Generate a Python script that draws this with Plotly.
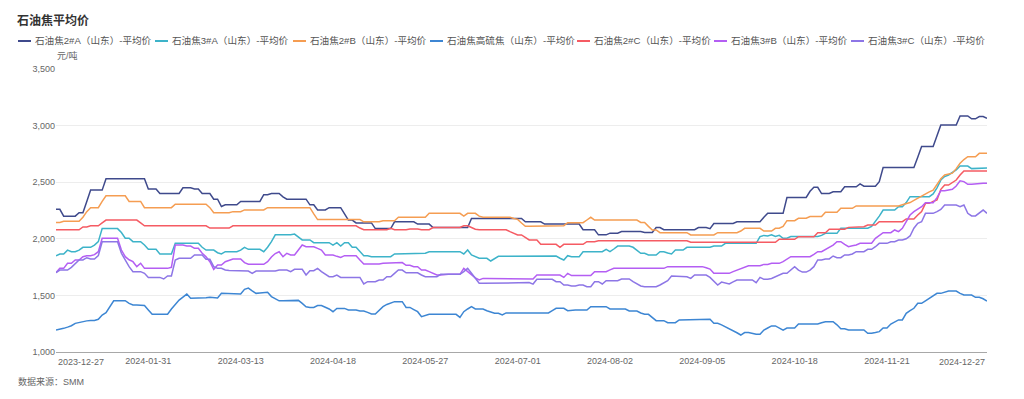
import plotly.graph_objects as go
import pandas as pd

TITLE = "石油焦平均价"
SOURCE = "数据来源：SMM"
UNIT = "元/吨"

# trading calendar (weekdays without Chinese market holidays)
HOLIDAYS = ["2024-01-01", "2024-02-09", "2024-02-12", "2024-02-13", "2024-02-14",
            "2024-02-15", "2024-02-16", "2024-04-04", "2024-04-05", "2024-05-01",
            "2024-05-02", "2024-05-03", "2024-06-10", "2024-09-16", "2024-09-17",
            "2024-10-01", "2024-10-02", "2024-10-03", "2024-10-04", "2024-10-07"]
DATES = [d.strftime("%Y-%m-%d") for d in pd.bdate_range("2023-12-27", "2024-12-27")
         if d.strftime("%Y-%m-%d") not in HOLIDAYS]
assert len(DATES) == 243, len(DATES)

TICK_LABELS = ["2023-12-27", "2024-01-31", "2024-03-13", "2024-04-18", "2024-05-27",
               "2024-07-01", "2024-08-02", "2024-09-05", "2024-10-18", "2024-11-21",
               "2024-12-27"]

SERIES_NAMES = ["石油焦2#A（山东）-平均价", "石油焦3#A（山东）-平均价", "石油焦2#B（山东）-平均价",
                "石油焦高硫焦（山东）-平均价", "石油焦2#C（山东）-平均价", "石油焦3#B（山东）-平均价",
                "石油焦3#C（山东）-平均价"]

S_2A = [
    2260, 2260, 2200, 2200, 2200, 2200, 2230, 2230, 2330, 2430,
    2430, 2430, 2430, 2530, 2530, 2530, 2530, 2530, 2530, 2530,
    2530, 2530, 2530, 2530, 2440, 2440, 2440, 2400, 2400, 2400,
    2400, 2400, 2400, 2450, 2450, 2450, 2440, 2440, 2400, 2400,
    2400, 2350, 2350, 2285, 2300, 2300, 2300, 2300, 2330, 2330,
    2330, 2330, 2330, 2330, 2390, 2390, 2400, 2400, 2400, 2370,
    2350, 2350, 2350, 2350, 2350, 2350, 2300, 2300, 2255, 2255,
    2255, 2275, 2275, 2275, 2275, 2220, 2165, 2165, 2140, 2140,
    2140, 2140, 2140, 2090, 2090, 2090, 2090, 2090, 2150, 2150,
    2150, 2150, 2150, 2150, 2130, 2130, 2130, 2130, 2100, 2100,
    2100, 2100, 2100, 2100, 2100, 2100, 2100, 2100, 2180, 2180,
    2180, 2180, 2180, 2180, 2180, 2180, 2180, 2180, 2180, 2180,
    2180, 2180, 2150, 2150, 2150, 2150, 2150, 2130, 2130, 2130,
    2130, 2130, 2130, 2130, 2130, 2130, 2130, 2080, 2080, 2080,
    2080, 2035, 2035, 2035, 2050, 2050, 2050, 2065, 2065, 2065,
    2065, 2065, 2065, 2055, 2055, 2055, 2100, 2100, 2080, 2080,
    2080, 2080, 2080, 2080, 2080, 2080, 2080, 2100, 2100, 2100,
    2090, 2135, 2135, 2135, 2135, 2135, 2135, 2150, 2150, 2150,
    2150, 2150, 2150, 2150, 2190, 2225, 2225, 2225, 2225, 2225,
    2365, 2365, 2365, 2365, 2365, 2365, 2420, 2455, 2455, 2400,
    2400, 2400, 2415, 2415, 2415, 2460, 2460, 2460, 2460, 2485,
    2465, 2465, 2465, 2465, 2505, 2630, 2630, 2630, 2630, 2630,
    2630, 2630, 2630, 2630, 2720, 2815, 2815, 2815, 2815, 2910,
    3005, 3005, 3005, 3005, 3005, 3085, 3085, 3085, 3060, 3060,
    3080, 3080, 3065]

S_3A = [
    1850, 1866, 1866, 1900, 1886, 1886, 1900, 1925, 1925, 1925,
    1945, 1975, 2090, 2090, 2090, 2090, 2090, 2055, 2005, 2005,
    1975, 1975, 1975, 1945, 1907, 1907, 1907, 1866, 1866, 1866,
    1866, 1960, 1960, 1960, 1960, 1960, 1960, 1960, 1925, 1900,
    1900, 1900, 1877, 1866, 1886, 1886, 1886, 1886, 1900, 1925,
    1907, 1907, 1907, 1907, 1886, 1925, 1975, 2035, 2035, 2035,
    2035, 2035, 2042, 2015, 1990, 1990, 1990, 1966, 1966, 1966,
    1966, 1966, 1945, 1966, 1936, 1966, 1966, 1925, 1925, 1890,
    1851, 1851, 1842, 1842, 1842, 1842, 1842, 1842, 1866, 1866,
    1866, 1872, 1872, 1872, 1872, 1872, 1872, 1886, 1886, 1886,
    1886, 1886, 1886, 1886, 1886, 1886, 1866, 1901, 1857, 1840,
    1828, 1828, 1828, 1804, 1825, 1845, 1845, 1845, 1845, 1845,
    1848, 1848, 1848, 1848, 1848, 1848, 1848, 1848, 1848, 1848,
    1848, 1828, 1813, 1851, 1842, 1842, 1842, 1886, 1886, 1886,
    1886, 1886, 1886, 1907, 1886, 1910, 1936, 1936, 1936, 1936,
    1925, 1900, 1872, 1872, 1857, 1857, 1857, 1886, 1886, 1875,
    1866, 1901, 1901, 1901, 1925, 1925, 1925, 1925, 1925, 1925,
    1925, 1936, 1936, 1936, 1960, 1960, 1960, 1960, 1960, 1960,
    1960, 1960, 1960, 2020, 2030, 2025, 2035, 2020, 2030, 2005,
    2005, 2020, 2020, 2020, 2020, 2020, 2020, 2020, 2020, 2030,
    2048, 2048, 2048, 2048, 2093, 2093, 2093, 2093, 2093, 2093,
    2093, 2093, 2110, 2150, 2200, 2254, 2254, 2254, 2254, 2284,
    2284, 2320, 2372, 2372, 2372, 2372, 2372, 2372, 2396, 2450,
    2519, 2550, 2564, 2590, 2608, 2643, 2643, 2643, 2620, 2620,
    2620, 2626, 2626]

S_2B = [
    2145, 2145, 2155, 2155, 2155, 2155, 2155, 2190, 2240, 2275,
    2275, 2275, 2330, 2380, 2380, 2380, 2380, 2380, 2380, 2330,
    2330, 2330, 2330, 2275, 2275, 2275, 2275, 2275, 2275, 2275,
    2275, 2305, 2305, 2305, 2305, 2305, 2305, 2305, 2305, 2305,
    2275, 2230, 2230, 2230, 2230, 2230, 2240, 2240, 2240, 2255,
    2255, 2255, 2255, 2255, 2255, 2275, 2275, 2275, 2275, 2275,
    2275, 2275, 2275, 2275, 2275, 2275, 2275, 2220, 2170, 2170,
    2170, 2170, 2170, 2170, 2170, 2170, 2170, 2170, 2170, 2170,
    2150, 2150, 2150, 2150, 2150, 2160, 2160, 2160, 2160, 2190,
    2190, 2190, 2190, 2190, 2190, 2190, 2190, 2225, 2225, 2225,
    2225, 2225, 2225, 2225, 2225, 2225, 2200, 2225, 2225, 2225,
    2200, 2190, 2190, 2190, 2190, 2190, 2190, 2190, 2190, 2180,
    2172, 2140, 2110, 2110, 2110, 2110, 2110, 2110, 2116, 2116,
    2116, 2116, 2116, 2142, 2142, 2142, 2142, 2142, 2166, 2190,
    2166, 2166, 2166, 2166, 2166, 2166, 2166, 2166, 2166, 2166,
    2166, 2166, 2145, 2145, 2110, 2078, 2078, 2054, 2054, 2054,
    2054, 2054, 2054, 2054, 2054, 2034, 2034, 2034, 2034, 2034,
    2034, 2034, 2054, 2054, 2054, 2054, 2054, 2054, 2069, 2093,
    2093, 2093, 2093, 2093, 2069, 2069, 2069, 2093, 2093, 2110,
    2160, 2160, 2160, 2181, 2181, 2181, 2196, 2196, 2196, 2196,
    2234, 2234, 2234, 2234, 2269, 2269, 2269, 2269, 2290, 2290,
    2290, 2290, 2290, 2290, 2290, 2290, 2290, 2290, 2290, 2290,
    2300, 2313, 2320, 2340, 2360, 2380, 2400, 2415, 2430, 2480,
    2530, 2564, 2572, 2580, 2620, 2667, 2700, 2725, 2725, 2725,
    2755, 2755, 2755]

S_HS = [
    1194, 1200, 1209, 1220, 1232, 1253, 1262, 1271, 1275, 1278,
    1278, 1289, 1327, 1347, 1400, 1453, 1453, 1453, 1453, 1430,
    1415, 1415, 1415, 1410, 1371, 1333, 1333, 1333, 1333, 1333,
    1380, 1424, 1459, 1485, 1512, 1474, 1474, 1474, 1474, 1480,
    1484, 1484, 1478, 1518, 1518, 1515, 1512, 1512, 1512, 1554,
    1565, 1540, 1518, 1522, 1527, 1527, 1490, 1470, 1452, 1452,
    1452, 1452, 1456, 1456, 1430, 1400, 1394, 1394, 1410, 1410,
    1395, 1380, 1356, 1385, 1385, 1385, 1371, 1371, 1371, 1362,
    1362, 1350, 1336, 1336, 1370, 1400, 1420, 1436, 1445, 1445,
    1445, 1394, 1394, 1375, 1356, 1312, 1325, 1333, 1333, 1333,
    1333, 1333, 1333, 1333, 1333, 1306, 1356, 1380, 1400, 1380,
    1380, 1380, 1365, 1350, 1342, 1342, 1327, 1345, 1345, 1345,
    1345, 1345, 1345, 1345, 1345, 1345, 1345, 1345, 1345, 1365,
    1386, 1386, 1386, 1365, 1371, 1371, 1371, 1371, 1371, 1400,
    1400, 1400, 1400, 1400, 1380, 1380, 1380, 1380, 1380, 1362,
    1362, 1362, 1345, 1333, 1333, 1305, 1277, 1277, 1277, 1259,
    1259, 1259, 1283, 1283, 1283, 1283, 1283, 1283, 1289, 1289,
    1289, 1253, 1253, 1240, 1224, 1205, 1189, 1170, 1150, 1172,
    1172, 1165, 1156, 1156, 1194, 1212, 1230, 1230, 1212, 1194,
    1212, 1212, 1212, 1247, 1247, 1247, 1247, 1247, 1247, 1258,
    1268, 1268, 1268, 1240, 1206, 1206, 1194, 1194, 1194, 1194,
    1194, 1165, 1165, 1172, 1180, 1212, 1212, 1247, 1265, 1283,
    1283, 1342, 1365, 1386, 1430, 1430, 1452, 1474, 1496, 1518,
    1518, 1530, 1539, 1539, 1539, 1518, 1503, 1503, 1503, 1483,
    1483, 1470, 1450]

S_2C = [
    2080, 2080, 2080, 2080, 2080, 2080, 2080, 2105, 2105, 2115,
    2115, 2115, 2140, 2165, 2165, 2165, 2165, 2165, 2165, 2165,
    2165, 2165, 2140, 2115, 2115, 2115, 2115, 2115, 2115, 2115,
    2115, 2115, 2115, 2115, 2115, 2115, 2115, 2115, 2115, 2115,
    2095, 2095, 2095, 2095, 2095, 2095, 2115, 2115, 2115, 2115,
    2115, 2115, 2115, 2115, 2115, 2115, 2115, 2115, 2115, 2115,
    2115, 2115, 2115, 2115, 2115, 2115, 2115, 2115, 2115, 2115,
    2115, 2115, 2115, 2115, 2115, 2115, 2115, 2115, 2115, 2095,
    2080, 2080, 2080, 2080, 2080, 2080, 2080, 2093, 2080, 2080,
    2080, 2080, 2087, 2087, 2087, 2080, 2080, 2080, 2100, 2100,
    2100, 2100, 2100, 2100, 2100, 2100, 2115, 2115, 2100, 2085,
    2080, 2080, 2080, 2080, 2080, 2080, 2080, 2080, 2063, 2050,
    2034, 2034, 2010, 1990, 1990, 1990, 1951, 1951, 1951, 1951,
    1951, 1925, 1951, 1951, 1951, 1951, 1951, 1951, 1974, 1974,
    1974, 1983, 1983, 1983, 1983, 1983, 1983, 1983, 1983, 1983,
    1983, 1983, 1983, 1983, 1983, 1983, 1983, 1983, 1983, 1983,
    1983, 1983, 1983, 1983, 1983, 1969, 1969, 1969, 1969, 1969,
    1969, 1969, 1969, 1969, 1969, 1969, 1969, 1969, 1969, 1969,
    1969, 1969, 1969, 1969, 1969, 1969, 1969, 1969, 1996, 1996,
    1996, 1996, 1996, 2019, 2019, 2019, 2019, 2019, 2054, 2054,
    2054, 2084, 2084, 2084, 2084, 2084, 2101, 2101, 2107, 2107,
    2107, 2122, 2122, 2122, 2151, 2151, 2151, 2151, 2151, 2151,
    2151, 2175, 2175, 2175, 2210, 2240, 2313, 2313, 2330, 2343,
    2437, 2475, 2475, 2500, 2519, 2564, 2600, 2600, 2600, 2600,
    2600, 2600, 2600]

S_3B = [
    1700, 1739, 1739, 1784, 1784, 1813, 1813, 1842, 1851, 1851,
    1860, 1886, 2004, 2004, 2004, 2004, 2004, 1901, 1842, 1815,
    1798, 1754, 1784, 1739, 1739, 1739, 1739, 1739, 1739, 1739,
    1748, 1945, 1945, 1945, 1936, 1936, 1916, 1916, 1872, 1842,
    1798, 1730, 1769, 1769, 1798, 1810, 1822, 1822, 1822, 1790,
    1775, 1775, 1775, 1775, 1775, 1798, 1840, 1870, 1886, 1842,
    1872, 1857, 1857, 1901, 1945, 1930, 1930, 1930, 1915, 1901,
    1857, 1857, 1857, 1845, 1836, 1851, 1851, 1851, 1851, 1813,
    1777, 1777, 1777, 1777, 1777, 1784, 1784, 1784, 1784, 1790,
    1790, 1766, 1766, 1754, 1754, 1724, 1724, 1710, 1695, 1680,
    1680, 1686, 1686, 1686, 1686, 1686, 1739, 1710, 1680, 1655,
    1636, 1650, 1650, 1650, 1648, 1645, 1645, 1645, 1645, 1645,
    1645, 1645, 1645, 1645, 1645, 1680, 1680, 1680, 1680, 1680,
    1680, 1680, 1659, 1695, 1675, 1675, 1675, 1675, 1675, 1675,
    1710, 1710, 1710, 1710, 1725, 1739, 1739, 1739, 1739, 1739,
    1739, 1739, 1739, 1733, 1733, 1739, 1739, 1739, 1739, 1754,
    1754, 1754, 1754, 1754, 1754, 1754, 1754, 1754, 1754, 1745,
    1733, 1695, 1695, 1695, 1695, 1695, 1710, 1724, 1735, 1745,
    1762, 1762, 1762, 1762, 1774, 1774, 1783, 1783, 1783, 1798,
    1820, 1842, 1842, 1842, 1842, 1842, 1842, 1863, 1886, 1886,
    1907, 1925, 1945, 1974, 1974, 1951, 1930, 1938, 1945, 1960,
    1960, 1960, 1960, 2004, 2030, 2054, 2054, 2054, 2078, 2063,
    2093, 2151, 2210, 2240, 2265, 2284, 2319, 2319, 2319, 2363,
    2425, 2425, 2430, 2437, 2466, 2513, 2505, 2481, 2481, 2485,
    2490, 2490, 2490]

S_3C = [
    1700, 1724, 1724, 1724, 1748, 1777, 1813, 1813, 1833, 1822,
    1822, 1851, 1974, 1974, 1974, 1974, 1974, 1872, 1813, 1754,
    1710, 1710, 1710, 1695, 1659, 1659, 1659, 1659, 1645, 1672,
    1672, 1813, 1828, 1828, 1828, 1828, 1857, 1857, 1857, 1819,
    1819, 1754, 1739, 1739, 1724, 1720, 1720, 1715, 1715, 1715,
    1715, 1695, 1715, 1715, 1715, 1715, 1715, 1715, 1724, 1724,
    1724, 1710, 1730, 1730, 1730, 1680, 1718, 1718, 1739, 1710,
    1690, 1665, 1665, 1680, 1659, 1659, 1659, 1659, 1659, 1659,
    1601, 1621, 1621, 1621, 1636, 1636, 1665, 1665, 1695, 1724,
    1724, 1700, 1700, 1700, 1700, 1680, 1665, 1665, 1665, 1665,
    1686, 1686, 1686, 1686, 1686, 1686, 1710, 1739, 1695, 1650,
    1607, 1607, 1607, 1607, 1607, 1607, 1607, 1607, 1607, 1607,
    1613, 1613, 1613, 1613, 1600, 1642, 1642, 1642, 1642, 1642,
    1621, 1621, 1592, 1592, 1583, 1583, 1592, 1592, 1577, 1577,
    1621, 1621, 1601, 1630, 1630, 1630, 1630, 1645, 1645, 1645,
    1621, 1600, 1583, 1577, 1577, 1577, 1577, 1592, 1610, 1630,
    1671, 1671, 1671, 1665, 1665, 1650, 1680, 1680, 1680, 1680,
    1659, 1621, 1592, 1618, 1610, 1601, 1620, 1636, 1636, 1636,
    1636, 1636, 1612, 1659, 1642, 1642, 1650, 1665, 1680, 1695,
    1695, 1724, 1754, 1724, 1706, 1706, 1724, 1754, 1813, 1813,
    1822, 1822, 1848, 1833, 1833, 1857, 1857, 1866, 1886, 1886,
    1886, 1907, 1907, 1930, 1960, 1960, 1960, 1974, 1974, 1989,
    1989, 2000, 2025, 2093, 2137, 2151, 2225, 2225, 2225, 2240,
    2260, 2299, 2299, 2299, 2299, 2284, 2299, 2225, 2202, 2202,
    2225, 2254, 2225]

SERIES_VALUES = [S_2A, S_3A, S_2B, S_HS, S_2C, S_3B, S_3C]
COLORS = ["#3f4a8c", "#3db3c9", "#f59d52", "#3d86d3", "#f55b63", "#b45ef3", "#8d76e6"]

# ---- layout geometry (pixels) ----
W, H = 1024, 399
L, R, T, B = 56, 37, 69, 47
PW, PH = W - L - R, H - T - B
FONT = "Liberation Sans, Noto Sans CJK SC, sans-serif"
LEGEND_LINE_X = [18, 155, 293, 430, 577, 714, 851]


def px_x(px):
    return (px - L) / PW


def px_y(py):
    return (H - B - py) / PH


fig = go.Figure()
for name, vals, col in zip(SERIES_NAMES, SERIES_VALUES, COLORS):
    fig.add_trace(go.Scatter(x=DATES, y=vals, name=name, mode="lines",
                             line=dict(color=col, width=1.5), showlegend=False))

annotations = [
    dict(text=UNIT, xref="paper", yref="paper", x=px_x(55), y=px_y(56), xanchor="left",
         yanchor="middle", showarrow=False, font=dict(size=9, color="#666")),
    dict(text=SOURCE, xref="paper", yref="paper", x=px_x(16), y=px_y(381), xanchor="left",
         yanchor="middle", showarrow=False, font=dict(size=9, color="#666")),
    dict(text=TICK_LABELS[0], xref="x", yref="paper", x=DATES.index(TICK_LABELS[0]), y=0,
         xanchor="left", yanchor="top", yshift=-3, showarrow=False,
         font=dict(size=9, color="#666")),
    dict(text=TICK_LABELS[-1], xref="x", yref="paper", x=DATES.index(TICK_LABELS[-1]), y=0,
         xanchor="right", yanchor="top", yshift=-3, showarrow=False,
         font=dict(size=9, color="#666")),
]
shapes = []
for name, col, lx in zip(SERIES_NAMES, COLORS, LEGEND_LINE_X):
    shapes.append(dict(type="line", xref="paper", yref="paper", x0=px_x(lx), x1=px_x(lx + 13),
                       y0=px_y(41), y1=px_y(41), line=dict(color=col, width=2)))
    annotations.append(dict(text=name, xref="paper", yref="paper", x=px_x(lx + 15), y=px_y(41),
                            xanchor="left", yanchor="middle", showarrow=False,
                            font=dict(size=9.6, color="#555")))

fig.update_layout(
    width=W, height=H,
    margin=dict(l=L, r=R, t=T, b=B),
    paper_bgcolor="white", plot_bgcolor="white",
    font=dict(family=FONT, color="#666"),
    showlegend=False,
    title=dict(text="<b>" + TITLE + "</b>", x=17 / W, xanchor="left", y=1 - 21 / H,
               yanchor="middle", font=dict(size=12, color="#333")),
    xaxis=dict(type="category", range=[0, len(DATES) - 1], tickvals=TICK_LABELS[1:-1],
               ticktext=TICK_LABELS[1:-1], showgrid=False, zeroline=False, showline=True,
               linecolor="#a8a8a8", linewidth=1, ticks="", tickfont=dict(size=9, color="#666")),
    yaxis=dict(range=[1000, 3500], dtick=500, tickformat=",", showgrid=True,
               gridcolor="#ededed", gridwidth=1, zeroline=False, showline=False, ticks="",
               tickfont=dict(size=9, color="#666")),
    shapes=shapes,
    annotations=annotations,
)

fig.write_html("out.html", config={"displayModeBar": False},
               post_script="document.body.style.margin='0';document.body.style.overflow='hidden';")
